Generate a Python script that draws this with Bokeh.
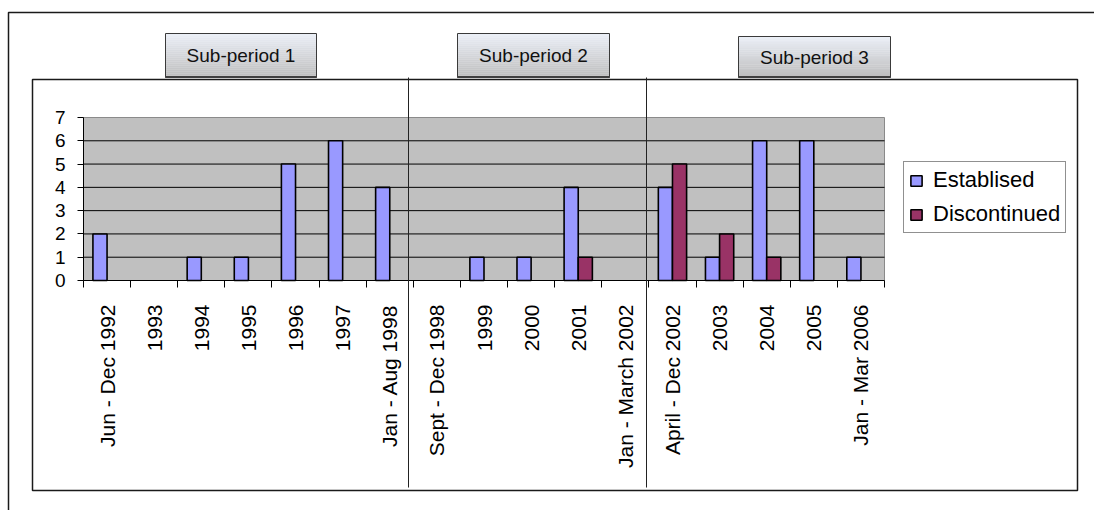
import math
from bokeh.plotting import figure
from bokeh.models import (Range1d, FixedTicker, LinearAxis, BoxAnnotation, Label,
                          Legend, LegendItem, ColumnDataSource)
from bokeh.transform import dodge
from bokeh.embed import file_html
from bokeh.resources import INLINE

# ---------------- data ----------------
categories = ["Jun - Dec 1992", "1993", "1994", "1995", "1996", "1997", "Jan - Aug 1998",
              "Sept - Dec 1998", "1999", "2000", "2001", "Jan - March 2002",
              "April - Dec 2002", "2003", "2004", "2005", "Jan - Mar 2006"]
established = [2, 0, 1, 1, 5, 6, 4, 0, 1, 1, 4, 0, 4, 1, 6, 6, 1]
discontinued = [0, 0, 0, 0, 0, 0, 0, 0, 0, 0, 1, 0, 5, 2, 1, 0, 0]
series_names = ["Establised", "Discontinued"]
y_ticks = [0, 1, 2, 3, 4, 5, 6, 7]
sub_periods = ["Sub-period 1", "Sub-period 2", "Sub-period 3"]

# ---------------- layout constants (pixels) ----------------
W, H = 1094, 510
PL, PR, PT, PB = 83, 884, 117, 280      # plot-area box on the canvas
FONT = "Liberation Sans"
COL_E = "#9999FF"
COL_D = "#993366"

n = len(categories)
ymax = y_ticks[-1]
centers = [i + 0.5 for i in range(n)]
bounds = list(range(n + 1))

# ranges chosen so that the data area (0..n, 0..ymax) lands on the plot-area box
sx = (PR - PL) / n
sy = (PB - PT) / ymax
x_range = Range1d(-PL / sx, n + (W - PR) / sx)
y_range = Range1d(-(H - PB) / sy, ymax + PT / sy)


def src_for(values):
    xs = [c for c, v in zip(centers, values) if v > 0]
    vs = [v for v in values if v > 0]
    return ColumnDataSource(dict(x=xs, v=vs))


p = figure(width=W, height=H, x_range=x_range, y_range=y_range,
           output_backend="svg", toolbar_location=None,
           min_border_left=0, min_border_right=0, min_border_top=0, min_border_bottom=0,
           x_axis_type=None, y_axis_type=None)
p.background_fill_color = "white"
p.border_fill_color = "white"
p.outline_line_color = None
p.xgrid.visible = False
p.ygrid.visible = False

# plot-area background
p.add_layout(BoxAnnotation(left=0, right=n, bottom=0, top=ymax, level="underlay",
                           fill_color="#C0C0C0", fill_alpha=1,
                           line_color="#8a8a8a", line_alpha=1, line_width=1))

# horizontal gridlines
gl = y_ticks[1:-1]
p.segment(x0=[0] * len(gl), x1=[n] * len(gl), y0=gl, y1=gl, line_color="black", line_width=1)

# axes (fixed inside the canvas)
xaxis = LinearAxis(ticker=FixedTicker(ticks=centers, minor_ticks=bounds),
                   major_label_overrides={c: lab for c, lab in zip(centers, categories)},
                   fixed_location=0, bounds=(0, n))
xaxis.major_label_orientation = math.pi / 2
xaxis.major_tick_line_color = None
xaxis.major_tick_out = 0
xaxis.major_tick_in = 0
xaxis.minor_tick_out = 7
xaxis.minor_tick_in = 0
xaxis.minor_tick_line_color = "black"
xaxis.axis_line_color = "black"
xaxis.major_label_standoff = 17
xaxis.major_label_text_font = FONT
xaxis.major_label_text_font_size = "21px"
xaxis.major_label_text_color = "black"
p.add_layout(xaxis, "below")

yaxis = LinearAxis(ticker=FixedTicker(ticks=y_ticks), fixed_location=0, bounds=(0, ymax))
yaxis.major_tick_out = 6
yaxis.major_tick_in = 0
yaxis.minor_tick_line_color = None
yaxis.axis_line_color = "black"
yaxis.major_tick_line_color = "black"
yaxis.major_label_standoff = 12
yaxis.major_label_text_font = FONT
yaxis.major_label_text_font_size = "19px"
yaxis.major_label_text_color = "black"
p.add_layout(yaxis, "left")

# bars
r_e = p.vbar(x=dodge("x", -0.15), top="v", width=0.3, source=src_for(established),
             fill_color=COL_E, line_color="black", line_width=1.6)
r_d = p.vbar(x=dodge("x", 0.15), top="v", width=0.3, source=src_for(discontinued),
             fill_color=COL_D, line_color="black", line_width=1.6)


# ---------------- decorations (canvas coordinates, y measured from top) ----------------
def cbox(l, t, r, b, **kw):
    props = dict(fill_alpha=0, line_alpha=1, line_color=None)
    props.update(kw)
    return BoxAnnotation(left=l, right=r, top=t, bottom=b,
                         left_units="canvas", right_units="canvas",
                         top_units="canvas", bottom_units="canvas", **props)


# outer frame and inner chart box
p.add_layout(cbox(8, 12, W + 20, H + 20, line_color="#1a1a1a", line_width=1.5))
p.add_layout(cbox(32, 79, 1077, 490, line_color="#1a1a1a", line_width=1.5))

# separators between sub-periods
for sxp in (408, 646):
    p.add_layout(cbox(sxp - 0.5, 77, sxp + 0.5, 487, fill_color="#222222", fill_alpha=1))

# sub-period header boxes with a vertical gradient
boxes = [(165, 33, 316, 77), (457, 33, 609, 77), (738, 36, 890, 77)]
top_rgb = (234, 238, 246)
bot_rgb = (190, 190, 190)
for (l, t, r, b), name in zip(boxes, sub_periods):
    steps = 22
    hgt = (b - t) / steps
    for k in range(steps):
        f = k / (steps - 1)
        rgb = tuple(int(round(top_rgb[j] + (bot_rgb[j] - top_rgb[j]) * f)) for j in range(3))
        col = "#%02x%02x%02x" % rgb
        p.add_layout(cbox(l, t + k * hgt, r, t + (k + 1) * hgt + 0.3, fill_color=col, fill_alpha=1))
    p.add_layout(cbox(l, t, r, b, line_color="#3a3a3a", line_width=1))
    p.add_layout(cbox(l, b - 1.5, r, b + 0.5, fill_color="#404040", fill_alpha=1))
    p.add_layout(Label(x=(l + r) / 2, y=(t + b) / 2, x_units="canvas", y_units="canvas",
                       text=name, text_align="center", text_baseline="middle",
                       text_font=FONT, text_font_size="19px", text_color="#111111"))

# legend
legend = Legend(items=[LegendItem(label=series_names[0], renderers=[r_e]),
                       LegendItem(label=series_names[1], renderers=[r_d])],
                location=(903, H - 233), orientation="vertical")
legend.label_text_font = FONT
legend.label_text_font_size = "22px"
legend.label_text_color = "black"
legend.glyph_width = 14
legend.glyph_height = 13
legend.label_standoff = 10
legend.label_height = 21
legend.padding = 5
legend.spacing = 8
legend.margin = 0
legend.border_line_color = "#222222"
legend.border_line_width = 1
legend.background_fill_color = "white"
legend.background_fill_alpha = 1
p.add_layout(legend)

open("out.html", "w").write(file_html(p, INLINE))
